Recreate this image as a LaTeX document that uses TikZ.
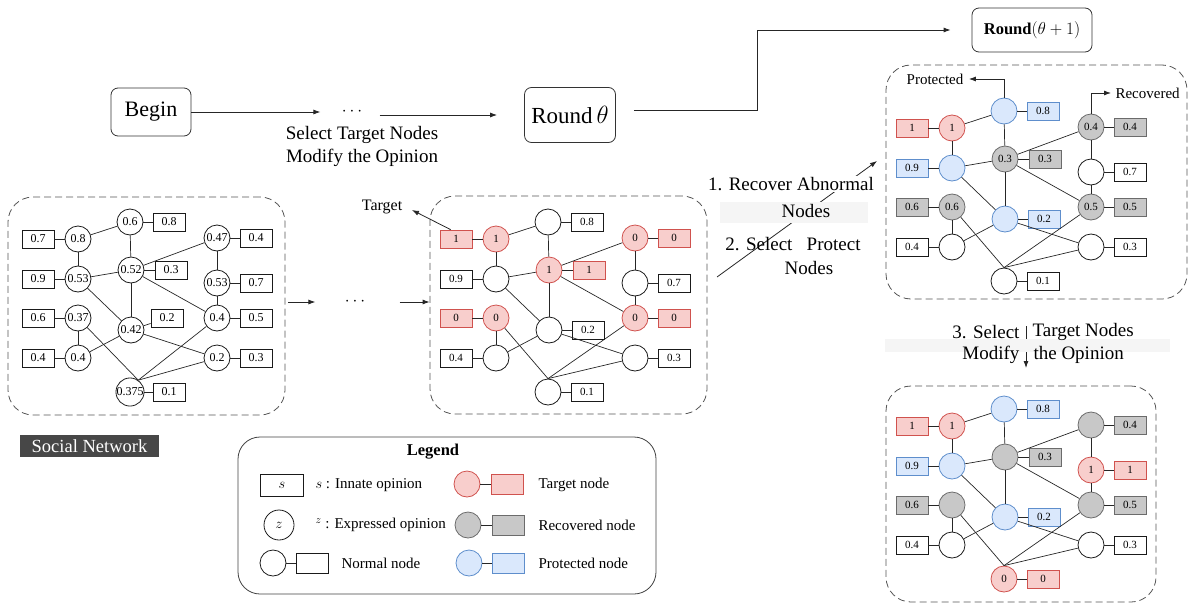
\documentclass[tikz,border=0pt]{standalone}
\usepackage{fontspec}
\setmainfont{Liberation Serif}
\usetikzlibrary{arrows.meta,calc}
\definecolor{Nf}{HTML}{FFFFFF}
\definecolor{Nd}{HTML}{1A1A1A}
\definecolor{Tf}{HTML}{F8CECC}
\definecolor{Td}{HTML}{D0524E}
\definecolor{Rf}{HTML}{C8C8C8}
\definecolor{Rd}{HTML}{6B6B6B}
\definecolor{Pf}{HTML}{DAE8FC}
\definecolor{Pd}{HTML}{5E8ECC}
\definecolor{dashc}{HTML}{555555}
\definecolor{snfill}{HTML}{474747}
\definecolor{band}{HTML}{F5F5F5}
\def\CX{{130,78,217,131,78,217,78,131,217,78,217,130}}
\def\CY{{222,239,238,270,279,283,318,330,318,358,358,392}}
\def\BX{{169,38,256,171,38,256,38,170,256,38,256,169}}
\def\BY{{222,239,238,270,279,283,318,330,318,358,358,392}}
\newcommand\drawnet[3]{%
  \foreach \i/\cst/\ctx/\bst/\btx in {#3}{%
    \pgfmathsetmacro\cx{\CX[\i-1]}%
    \pgfmathsetmacro\cy{\CY[\i-1]}%
    \pgfmathsetmacro\bx{\BX[\i-1]}%
    \pgfmathsetmacro\by{\BY[\i-1]}%
    \node[cnode, draw=\cst d, fill=\cst f] (#1c\i) at (\cx,\cy) {\ctx};
    \node[bnode, draw=\bst d, fill=\bst f] (#1b\i) at (\bx,\by) {\btx};
  }
  \foreach \a/\b in {2/1,1/4,2/5,5/4,4/3,3/6,6/9,4/9,4/8,5/8,7/10,10/8,8/11}
    \draw[edge] (#1c\a) -- (#1c\b);
  \foreach \a in {7,9,11} \draw[edge] (#1c\a) -- (#1c12.#2);
  \foreach \i in {1,...,12} \draw[edge] (#1c\i) -- (#1b\i);
}
\begin{document}
\begin{tikzpicture}[x=1pt,y=-1pt,
  cnode/.style={circle,minimum size=26pt,inner sep=0pt,line width=0.8pt},
  bnode/.style={rectangle,minimum width=32pt,minimum height=18pt,inner sep=0pt,line width=0.8pt},
  edge/.style={draw=black!85,line width=0.7pt},
  arr/.style={-{Latex[length=7pt,width=5pt]},line width=0.8pt,draw=black!85},
  dbox/.style={draw=dashc,dash pattern=on 7pt off 4pt,rounded corners=25pt,line width=0.8pt,inner sep=0pt},
  flowbox/.style={draw=black!80,rounded corners=7pt,line width=0.8pt},
  big/.style={font=\fontsize{19}{23}\selectfont},
  mid/.style={font=\fontsize{15}{18}\selectfont},
  legc/.style={circle,minimum size=26pt,inner sep=0pt,line width=0.8pt},
  legb/.style={rectangle,minimum width=32pt,minimum height=20pt,inner sep=0pt,line width=0.8pt}
]
\useasboundingbox (0,0) rectangle (1190,608);

% ---------- top flow ----------
\node[flowbox,minimum width=80pt,minimum height=48pt,font=\fontsize{22}{26}\selectfont] (begin) at (151,112) {Begin};
\node[font=\fontsize{18}{20}\selectfont] (dots1) at (352,112) {$\cdots$};
\node[flowbox,minimum width=91pt,minimum height=55pt,inner sep=2pt,font=\fontsize{23}{27}\selectfont] (rt) at (570,115) {Round\,$\theta$};
\node[flowbox,minimum width=120pt,minimum height=44pt,font=\fontsize{16.5}{20}\selectfont] (rt1) at (1032,30) {\textbf{Round}$(\theta+1)$};
\node[big,align=center] (sel) at (362,146) {Select Target Nodes\\Modify the Opinion};
\draw[arr,shorten >=18pt] (begin.east) -- (begin.east -| dots1.west);
\draw[arr,shorten <=14pt,shorten >=27pt] (dots1.east |- rt.west) -- (rt.west);
\coordinate (k1) at (757,110);
\draw[arr,shorten <=18pt,shorten >=21pt] (rt.east |- k1) -- (k1) |- (rt1.west);

% ---------- dashed frames ----------
\node[dbox,minimum width=277pt,minimum height=218pt] (Lbox) at (146.5,306) {};
\node[dbox,minimum width=277pt,minimum height=218pt] (Mbox) at (568.5,305) {};
\node[dbox,minimum width=301pt,minimum height=234pt] (Abox) at (1036.5,182) {};
\node[dbox,minimum width=270pt,minimum height=216pt] (Bbox) at (1021,494) {};

% ---------- networks ----------
\begin{scope}[font=\fontsize{12}{14}\selectfont]
\def\BX{{169,38,256,171,38,256,38,167,256,38,256,169}}
\def\BY{{222,239,238,270,279,283,318,318,318,358,358,392}}
\drawnet{L}{55}{1/N/0.6/N/0.8, 2/N/0.8/N/0.7, 3/N/0.47/N/0.4, 4/N/0.52/N/0.3, 5/N/0.53/N/0.9, 6/N/0.53/N/0.7, 7/N/0.37/N/0.6, 8/N/0.42/N/0.2, 9/N/0.4/N/0.5, 10/N/0.4/N/0.4, 11/N/0.2/N/0.3, 12/N/0.375/N/0.1}
\end{scope}
\begin{scope}[shift={(418,0)},font=\fontsize{11}{13}\selectfont]
\drawnet{M}{north}{1/N/{}/N/0.8, 2/T/1/T/1, 3/T/0/T/0, 4/T/1/T/1, 5/N/{}/N/0.9, 6/N/{}/N/0.7, 7/T/0/T/0, 8/N/{}/N/0.2, 9/T/0/T/0, 10/N/{}/N/0.4, 11/N/{}/N/0.3, 12/N/{}/N/0.1}
\end{scope}
\begin{scope}[shift={(874,-111)},font=\fontsize{11}{13}\selectfont]
\drawnet{A}{north}{1/P/{}/P/0.8, 2/T/1/T/1, 3/R/0.4/R/0.4, 4/R/0.3/R/0.3, 5/P/{}/P/0.9, 6/N/{}/N/0.7, 7/R/0.6/R/0.6, 8/P/{}/P/0.2, 9/R/0.5/R/0.5, 10/N/{}/N/0.4, 11/N/{}/N/0.3, 12/N/{}/N/0.1}
\end{scope}
\begin{scope}[shift={(874,187)},font=\fontsize{11}{13}\selectfont]
\drawnet{B}{north}{1/P/{}/P/0.8, 2/T/1/T/1, 3/R/{}/R/0.4, 4/R/{}/R/0.3, 5/P/{}/P/0.9, 6/T/1/T/1, 7/R/{}/R/0.6, 8/P/{}/P/0.2, 9/R/{}/R/0.5, 10/N/{}/N/0.4, 11/N/{}/N/0.3, 12/T/0/T/0}
\end{scope}

% ---------- labels on networks ----------
\node[fill=snfill,text=white,minimum width=139pt,minimum height=22pt,inner sep=0pt,font=\fontsize{18.5}{22}\selectfont] (sn) at (89.5,446) {Social Network};
\node[font=\fontsize{16}{19}\selectfont] (tgt) at (382,207) {Target};
\coordinate (tgtend) at (412,210);
\draw[arr] (Mb2.120) -- (tgtend);
\node[mid] (prot) at (935,79) {Protected};
\draw[arr,shorten >=2pt] (Ac1.north) |- (prot.east);
\node[mid,anchor=west] (rec) at (1112,93) {Recovered};
\draw[arr,shorten >=1pt] (Ac3.north) |- (rec.west);

% ---------- between networks ----------
\node[font=\fontsize{18}{20}\selectfont] (dots2) at (355,302) {$\cdots$};
\draw[arr,shorten <=3pt,shorten >=26pt] (Lbox.east |- dots2) -- (dots2.west);
\draw[arr,shorten <=31pt] (dots2.east) -- (Mbox.west |- dots2);

\coordinate (d1) at (717,277);
\coordinate (d2) at (877,161);
\draw[arr] (d1) -- (d2);
\node[big,fill=white,inner sep=1pt] (rec1) at (791,184) {1. Recover Abnormal};
\fill[band] (720,202) rectangle (868,223);
\node[big] (rec2) at (806,211) {Nodes};
\node[big] (pr1) at (793,244) {2. Select\ \ \ Protect};
\node[big] (pr2) at (809,268) {Nodes};

\coordinate (v1) at (1026,326);
\coordinate (v2) at (1026,368);
\draw[arr] (v1) -- (v2);
\fill[band] (885,339) rectangle (1170,352);
\node[big,anchor=east] (s3a) at (1023,332) {3. Select};
\node[big,anchor=west] (s3b) at (1029,332) {Target Nodes};
\node[big,anchor=east] (s3c) at (1023,355) {Modify};
\node[big,anchor=west] (s3d) at (1030,355) {the Opinion};

% ---------- legend ----------
\node[draw=black!75,rounded corners=22pt,line width=0.8pt,minimum width=418pt,minimum height=157pt] (leg) at (447,515.5) {};
\node[font=\bfseries\fontsize{16.5}{19}\selectfont] (legt) at (433,452) {Legend};
\node[draw=Nd,line width=0.8pt,minimum width=43pt,minimum height=22pt,inner sep=0pt,font=\fontsize{14}{16}\selectfont] (ls) at (282,485) {$s$};
\node[anchor=west,font=\fontsize{15}{18}\selectfont] (lst) at (312,485) {$s$ : Innate opinion};
\node[draw=Nd,circle,line width=0.8pt,minimum size=30pt,inner sep=0pt,font=\fontsize{14}{16}\selectfont] (lz) at (279,525) {$z$};
\node[anchor=west,font=\fontsize{15}{18}\selectfont] (lzt) at (312,525) {$^{z}$ : Expressed opinion};
\node[legc,draw=Nd,fill=Nf] (ln1) at (273,563) {};
\node[legb,draw=Nd,fill=Nf] (ln2) at (312,563) {};
\draw[edge] (ln1) -- (ln2);
\node[font=\fontsize{15}{18}\selectfont] (lnt) at (381,563) {Normal node};
\node[legc,draw=Td,fill=Tf] (lt1) at (467,484) {};
\node[legb,draw=Td,fill=Tf] (lt2) at (507,484) {};
\draw[edge] (lt1) -- (lt2);
\node[anchor=west,font=\fontsize{15}{18}\selectfont] (ltt) at (535,485) {Target node};
\node[legc,draw=Rd,fill=Rf] (lr1) at (468,525) {};
\node[legb,draw=Rd,fill=Rf] (lr2) at (508,525) {};
\draw[edge] (lr1) -- (lr2);
\node[anchor=west,font=\fontsize{15}{18}\selectfont] (lrt) at (535,525) {Recovered node};
\node[legc,draw=Pd,fill=Pf] (lp1) at (469,563) {};
\node[legb,draw=Pd,fill=Pf] (lp2) at (508,563) {};
\draw[edge] (lp1) -- (lp2);
\node[anchor=west,font=\fontsize{15}{18}\selectfont] (lpt) at (535,563) {Protected node};
\end{tikzpicture}
\end{document}
